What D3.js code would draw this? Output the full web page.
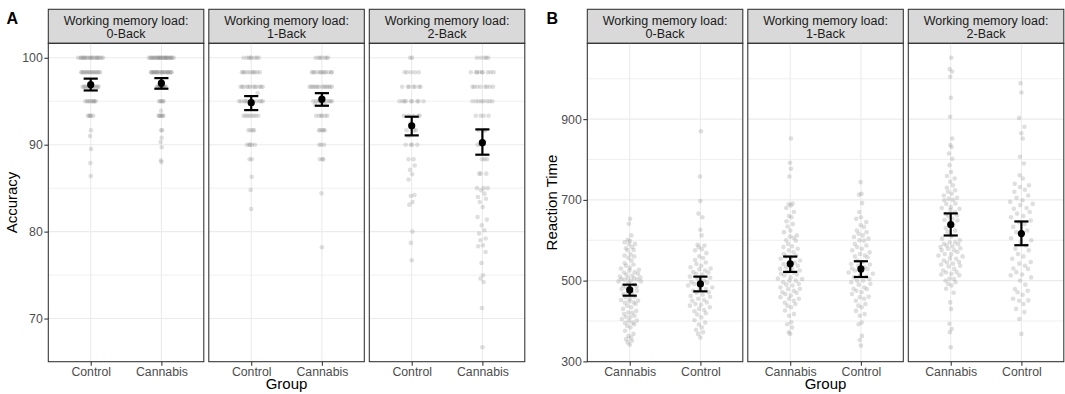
<!DOCTYPE html>
<html>
<head>
<meta charset="utf-8">
<script src="https://cdn.jsdelivr.net/npm/d3@7/dist/d3.min.js"></script>
<style>
  html, body { margin: 0; padding: 0; background: #fff; }
  svg { display: block; font-family: "Liberation Sans", Arial, sans-serif; }
</style>
</head>
<body>
<svg id="chart" width="1065" height="394"></svg>
<script>
// ---- facets and groups ----
const loads = ["0-Back", "1-Back", "2-Back"];
const accGroups = ["Control", "Cannabis"];
const rtGroups = ["Cannabis", "Control"];

// ---- accuracy (%) per participant ----
const accControl0 = [100,100,100,100,100,100,100,100,100,100,100,100,100,100,100,100,100,100,100,100,
  98.33,98.33,98.33,98.33,98.33,98.33,98.33,98.33,98.33,98.33,98.33,98.33,98.33,98.33,98.33,98.33,
  96.67,96.67,96.67,96.67,96.67,96.67,96.67,96.67,96.67,96.67,96.67,96.67,96.67,
  95,95,95,95,95,95,95,95,95, 93.33,93.33,93.33,93.33,93.33, 91.67,91.0,89.5,87.9,86.4];
const accCannabis0 = [100,100,100,100,100,100,100,100,100,100,100,100,100,100,100,100,100,100,100,100,100,100,100,100,100,100,
  98.33,98.33,98.33,98.33,98.33,98.33,98.33,98.33,98.33,98.33,98.33,98.33,98.33,98.33,98.33,98.33,98.33,98.33,98.33,98.33,98.33,98.33,
  96.67,96.67,96.67,96.67,96.67,96.67,96.67,96.67,96.67,96.67,96.67,
  95,95,95,95,95, 93.9, 93.33,93.33,93.33,93.33,93.33,93.33, 91.67,91.67, 90.8,90.3,89.7,88.2,88.0];
const accControl1 = [100,100,100,100,100,100,100,100,
  98.33,98.33,98.33,98.33,98.33,98.33,98.33,98.33,98.33,98.33, 95.9,
  96.67,96.67,96.67,96.67,96.67,96.67,96.67,96.67,96.67,96.67,96.67,96.67,
  95,95,95,95,95,95,95,95,95,95,95,95, 93.33,93.33,93.33,93.33,93.33,93.33,93.33,93.33,
  91.67,91.67,91.67,91.67, 90,90,90,90,90, 88.33,88.33, 86.3,84.8,82.6];
const accCannabis1 = [100,100,100,100,100,100,100,
  98.33,98.33,98.33,98.33,98.33,98.33,98.33,98.33,98.33,98.33,98.33,98.33,
  96.67,96.67,96.67,96.67,96.67,96.67,96.67,96.67,96.67,96.67,96.67,96.67,96.67,96.67,
  95,95,95,95,95,95,95,95,95,95, 94.6,94.6, 93.33,93.33,93.33,93.33,93.33,93.33,
  91.67,91.67,91.67,91.67,91.67, 90,90,90, 88.33,88.33,88.33, 84.4,78.2];
const accControl2 = [100,100, 98.33,98.33,98.33,98.33,98.33, 96.67,96.67,96.67,96.67,96.67,96.67,96.67,
  95,95,95,95,95,95,95,95,95, 93.33,93.33,93.33,93.33,93.33, 92.4, 91.67,91.67,91.67, 91.0,
  90,90,90,90, 88.33,88.33, 87.6,87.1,86.6,86.0, 84.2,84.1,83.4,83.1,80.0,78.7,76.7];
const accCannabis2 = [100,100,100,100,100, 98.33,98.33,98.33,98.33,98.33,98.33,98.33,98.33,98.33,
  96.67,96.67,96.67,96.67,96.67,96.67,96.67,96.67, 95,95,95,95,95,95,95,95,
  93.33,93.33,93.33,93.33, 91.67,91.67,91.67, 90,90,90, 88.33,88.33,88.33, 86.67,86.67,86.67, 85,85,85,
  84.75,84.37,83.98,83.79,83.40,82.83,81.68,81.38,80.72,80.15,79.77,79.20,79.0,78.43,78.31,77.66,
  76.39,74.98,74.6,74.2,71.2,66.7];

// ---- reaction time (ms) per participant ----
const rtCannabis0 = [653,641,612,601,598,595,591,590,583,580,576,575,565,562,560,556,550,543,540,537,532,530,
  527,525,521,520,517,515,512,510,508,507,505,504,503,502,500,498,498,496,490,488,485,483,480,479,475,471,
  470,467,460,459,455,452,450,449,446,445,442,438,434,430,425,421,420,417,413,410,409,405,401,400,396,395,
  392,388,384,376,368,363,359,355,351,347,341];
const rtControl0 = [870,758,697,666,657,626,612,589,587,583,578,575,568,560,556,551,545,541,537,533,530,
  528,525,521,520,517,515,510,507,505,500,496,495,492,490,488,483,480,479,475,471,470,465,462,460,455,452,
  450,446,442,440,438,434,430,427,424,419,416,409,402,396,391,384,378,372,368,359];
const rtCannabis1 = [852,792,777,758,691,689,686,680,670,660,657,647,640,634,624,620,612,609,606,600,599,
  591,585,583,579,575,570,566,562,560,558,554,550,546,545,541,537,533,530,529,525,521,520,517,515,513,508,
  505,504,500,500,496,492,490,488,483,480,479,475,471,470,467,463,459,455,455,450,445,442,438,434,426,417,
  413,397,392,384,372,368];
const rtControl1 = [744,715,713,692,670,657,653,645,637,633,624,620,616,612,608,604,600,599,591,587,583,
  579,575,570,566,562,560,558,550,546,541,540,537,533,530,529,525,521,520,517,513,510,508,504,500,500,496,
  492,490,483,480,479,475,471,467,460,459,455,450,442,438,434,425,417,413,396,392,363,353,339];
const rtCannabis2 = [1052,1024,1018,1005,953,906,852,836,831,815,802,786,769,759,753,745,736,730,724,720,
  715,711,705,703,700,699,691,690,682,680,678,675,670,665,662,660,653,650,649,640,637,630,624,620,610,604,
  600,595,595,591,590,587,585,583,580,579,575,575,571,566,565,562,560,555,554,550,546,545,542,540,537,535,
  529,525,521,520,517,515,513,505,504,500,496,492,488,480,470,446,430,393,380,372,335];
const rtControl2 = [989,966,903,881,865,852,807,790,761,753,740,736,732,725,720,711,705,699,695,690,687,
  680,678,670,666,660,657,649,645,640,633,624,620,612,605,600,595,587,579,575,566,560,554,546,542,537,530,
  529,521,515,513,508,500,490,479,475,471,465,455,451,450,442,430,422,405,368];

// ---- group means with error bar limits (one entry per load) ----
const accMeanControl = [96.90, 94.83, 92.18];
const accLowControl = [96.24, 93.98, 91.07];
const accHighControl = [97.60, 95.59, 93.22];
const accMeanCannabis = [97.08, 95.24, 90.23];
const accLowCannabis = [96.44, 94.48, 88.85];
const accHighCannabis = [97.66, 95.93, 91.76];

const rtMeanCannabis = [476.9, 541.5, 639.0];
const rtLowCannabis = [462.7, 521.6, 611.8];
const rtHighCannabis = [490.0, 559.6, 666.5];
const rtMeanControl = [491.8, 529.0, 616.6];
const rtLowControl = [473.4, 509.0, 587.7];
const rtHighControl = [509.9, 548.0, 646.5];

// ---- axis ticks ----
const accTicks = [70, 80, 90, 100];
const accMinorTicks = [75, 85, 95];
const rtTicks = [300, 500, 700, 900];
const rtMinorTicks = [400, 600, 800, 1000];

// ---- layout ----
const STRIP_TOP = 9.3, PANEL_TOP = 43.3, PANEL_BOTTOM = 361.7;
const FACET_W = 155.5, FACET_GAP = 5;
const JITTER_WIDTH = 0.18;   // max half-width of the point cloud, in category steps
const CAP_HALF = 0.1;        // error-bar cap half-width, in category steps

const svg = d3.select("#chart");

// van der Corput sequence (base 2)
function vdc(n) {
  let v = 0, denom = 1;
  while (n > 0) { denom *= 2; v += (n % 2) / denom; n = Math.floor(n / 2); }
  return v;
}

// quasirandom offsets: spread scaled by the kernel density at each value
function quasiOffsets(vals) {
  const n = vals.length;
  const sorted = vals.slice().sort(d3.ascending);
  const sd = d3.deviation(vals);
  const iqr = d3.quantile(sorted, 0.75) - d3.quantile(sorted, 0.25);
  let lo = Math.min(sd, iqr / 1.34);
  if (!(lo > 0)) lo = sd;
  const bw = 0.9 * lo * Math.pow(n, -0.2) * 0.5;
  const dens = v => d3.sum(vals, u => Math.exp(-0.5 * ((v - u) / bw) ** 2));
  const gLo = sorted[0] - 3 * bw, gHi = sorted[n - 1] + 3 * bw;
  let maxD = 0;
  for (let i = 0; i < 512; i++) maxD = Math.max(maxD, dens(gLo + (gHi - gLo) * i / 511));
  const order = d3.range(n).sort((a, b) => vals[a] - vals[b] || a - b);
  const rank = new Array(n);
  order.forEach((idx, r) => rank[idx] = r);
  return vals.map((v, i) => (vdc(rank[i] + 1) - 0.5) * 2 * JITTER_WIDTH * dens(v) / maxD);
}

function drawPanel(opts) {
  const { left, groups, series, means, lows, highs, ticks, minorTicks, yTitle, tag, yTitleX } = opts;
  const all = series.flat().flat();
  const [mn, mx] = d3.extent(all);
  const pad = (mx - mn) * 0.05;
  const y = d3.scaleLinear().domain([mn - pad, mx + pad]).range([PANEL_BOTTOM, PANEL_TOP]);

  loads.forEach((load, f) => {
    const x0 = left + f * (FACET_W + FACET_GAP);
    const x = d3.scalePoint().domain(groups).range([x0, x0 + FACET_W]).padding(0.6);
    const step = x.step();
    const g = svg.append("g");

    // strip
    g.append("rect").attr("x", x0).attr("y", STRIP_TOP).attr("width", FACET_W)
      .attr("height", PANEL_TOP - STRIP_TOP).attr("fill", "#d9d9d9")
      .attr("stroke", "#333333").attr("stroke-width", 1.07);
    const st = g.append("text").attr("text-anchor", "middle").attr("fill", "#1a1a1a")
      .style("font-size", "12.5px");
    st.append("tspan").attr("x", x0 + FACET_W / 2).attr("y", 24.5).text("Working memory load:");
    st.append("tspan").attr("x", x0 + FACET_W / 2).attr("y", 37.8).text(load);

    // grid
    g.selectAll(".minor").data(minorTicks).join("line")
      .attr("x1", x0).attr("x2", x0 + FACET_W)
      .attr("y1", d => y(d)).attr("y2", d => y(d))
      .attr("stroke", "#ebebeb").attr("stroke-width", 0.75);
    g.selectAll(".major").data(ticks).join("line")
      .attr("x1", x0).attr("x2", x0 + FACET_W)
      .attr("y1", d => y(d)).attr("y2", d => y(d))
      .attr("stroke", "#ebebeb").attr("stroke-width", 1.1);
    g.selectAll(".vgrid").data(groups).join("line")
      .attr("x1", d => x(d)).attr("x2", d => x(d))
      .attr("y1", PANEL_TOP).attr("y2", PANEL_BOTTOM)
      .attr("stroke", "#ebebeb").attr("stroke-width", 1.1);

    // participant points
    groups.forEach((grp, gi) => {
      const vals = series[gi][f];
      const offs = quasiOffsets(vals);
      g.append("g").selectAll("circle").data(vals).join("circle")
        .attr("cx", (d, i) => x(grp) + offs[i] * step)
        .attr("cy", d => y(d))
        .attr("r", 2.3)
        .attr("fill", "#7f7f7f").attr("fill-opacity", 0.25);
    });

    // mean and error bars
    groups.forEach((grp, gi) => {
      const cx = x(grp), m = means[gi][f], lo = lows[gi][f], hi = highs[gi][f];
      const eb = g.append("g").attr("stroke", "#000").attr("stroke-width", 2.2);
      eb.append("line").attr("x1", cx).attr("x2", cx).attr("y1", y(lo)).attr("y2", y(hi));
      eb.append("line").attr("x1", cx - CAP_HALF * step).attr("x2", cx + CAP_HALF * step)
        .attr("y1", y(lo)).attr("y2", y(lo));
      eb.append("line").attr("x1", cx - CAP_HALF * step).attr("x2", cx + CAP_HALF * step)
        .attr("y1", y(hi)).attr("y2", y(hi));
      g.append("circle").attr("cx", cx).attr("cy", y(m)).attr("r", 3.6).attr("fill", "#000");
    });

    // panel border
    g.append("rect").attr("x", x0).attr("y", PANEL_TOP).attr("width", FACET_W)
      .attr("height", PANEL_BOTTOM - PANEL_TOP).attr("fill", "none")
      .attr("stroke", "#333333").attr("stroke-width", 1.07);

    // x axis
    const xa = g.append("g").attr("transform", `translate(0,${PANEL_BOTTOM})`)
      .call(d3.axisBottom(x).tickSize(4).tickPadding(2));
    xa.select(".domain").remove();
    xa.selectAll("line").attr("stroke", "#333333").attr("stroke-width", 1.07);
    xa.selectAll("text").attr("fill", "#4d4d4d").style("font-size", "12.3px")
      .style("font-family", "'Liberation Sans', Arial, sans-serif");
  });

  // y axis
  const ya = svg.append("g").attr("transform", `translate(${left},0)`)
    .call(d3.axisLeft(y).tickValues(ticks).tickSize(4).tickPadding(1.5));
  ya.select(".domain").remove();
  ya.selectAll("line").attr("stroke", "#333333").attr("stroke-width", 1.07);
  ya.selectAll("text").attr("fill", "#4d4d4d").style("font-size", "12.3px")
    .style("font-family", "'Liberation Sans', Arial, sans-serif");

  // titles
  const midX = left + (3 * FACET_W + 2 * FACET_GAP) / 2;
  svg.append("text").attr("x", midX).attr("y", 388.5).attr("text-anchor", "middle")
    .style("font-size", "15px").attr("fill", "#000").text("Group");
  svg.append("text").attr("transform", `translate(${yTitleX},${(PANEL_TOP + PANEL_BOTTOM) / 2}) rotate(-90)`)
    .attr("text-anchor", "middle").style("font-size", "15px").attr("fill", "#000").text(yTitle);
  svg.append("text").attr("x", tag.x).attr("y", 24).style("font-size", "16px")
    .style("font-weight", "bold").attr("fill", "#000").text(tag.label);
}

drawPanel({
  left: 48.3,
  groups: accGroups,
  series: [[accControl0, accControl1, accControl2], [accCannabis0, accCannabis1, accCannabis2]],
  means: [accMeanControl, accMeanCannabis],
  lows: [accLowControl, accLowCannabis],
  highs: [accHighControl, accHighCannabis],
  ticks: accTicks, minorTicks: accMinorTicks,
  yTitle: "Accuracy", yTitleX: 16.5,
  tag: { label: "A", x: 6.5 }
});

drawPanel({
  left: 587.3,
  groups: rtGroups,
  series: [[rtCannabis0, rtCannabis1, rtCannabis2], [rtControl0, rtControl1, rtControl2]],
  means: [rtMeanCannabis, rtMeanControl],
  lows: [rtLowCannabis, rtLowControl],
  highs: [rtHighCannabis, rtHighControl],
  ticks: rtTicks, minorTicks: rtMinorTicks,
  yTitle: "Reaction Time", yTitleX: 556.5,
  tag: { label: "B", x: 546.5 }
});
</script>
</body>
</html>
